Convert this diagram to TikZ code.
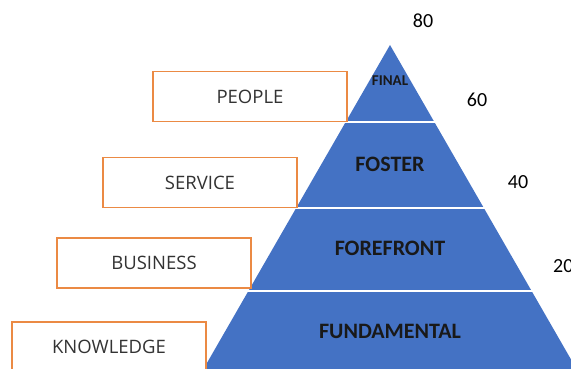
\documentclass[tikz,border=0pt]{standalone}
\usepackage{fontspec}
\setmainfont{Carlito}
\newfontfamily\boxfont{Open Sans}
\definecolor{pyrblue}{HTML}{4472C4}
\definecolor{boxorange}{HTML}{EB8A44}
\definecolor{boxtext}{HTML}{333333}
\begin{document}
\begin{tikzpicture}[x=1pt,y=-1pt,
  labelbox/.style={draw=boxorange, line width=1.4pt, fill=white,
    minimum width=194pt, minimum height=50pt, inner sep=0pt,
    font=\boxfont\fontsize{18.5}{18.5}\selectfont, text=boxtext},
  tier/.style={font=\bfseries\fontsize{22}{22}\selectfont, text=black!90},
  level/.style={font=\fontsize{20}{20}\selectfont, text=black}]
\useasboundingbox (0,0) rectangle (571,369);

% pyramid body
\coordinate (apex) at (390,45);
\coordinate (bl) at (196,382);
\coordinate (br) at (584,382);
\fill[pyrblue] (apex) -- (bl) -- (br) -- cycle;

% white separators between tiers
\coordinate (s1l) at (344,122.5);   \coordinate (s1r) at (436,122.5);
\coordinate (s2l) at (295,207.5);   \coordinate (s2r) at (485,207.5);
\coordinate (s3l) at (247,291);     \coordinate (s3r) at (533,291);
\draw[white, line width=2pt] (s1l) -- (s1r);
\draw[white, line width=2pt] (s2l) -- (s2r);
\draw[white, line width=2pt] (s3l) -- (s3r);

% tier names
\node[tier, font=\bfseries\fontsize{15}{15}\selectfont] (final) at (390,81) {FINAL};
\node[tier] (foster) at (390,164) {FOSTER};
\node[tier] (forefront) at (390,248) {FOREFRONT};
\node[tier] (fundamental) at (390,331) {FUNDAMENTAL};

% side labels
\node[labelbox] (people) at (250,96.5) {PEOPLE};
\node[labelbox] (service) at (200,182.5) {SERVICE};
\node[labelbox] (business) at (154,263) {BUSINESS};
\node[labelbox] (knowledge) at (109,347) {KNOWLEDGE};

% level values
\node[level] (v80) at (423,21) {80};
\node[level] (v60) at (477,100) {60};
\node[level] (v40) at (518,182) {40};
\node[level, anchor=west, inner sep=0pt] (v20) at (553,266) {20};
\end{tikzpicture}
\end{document}
